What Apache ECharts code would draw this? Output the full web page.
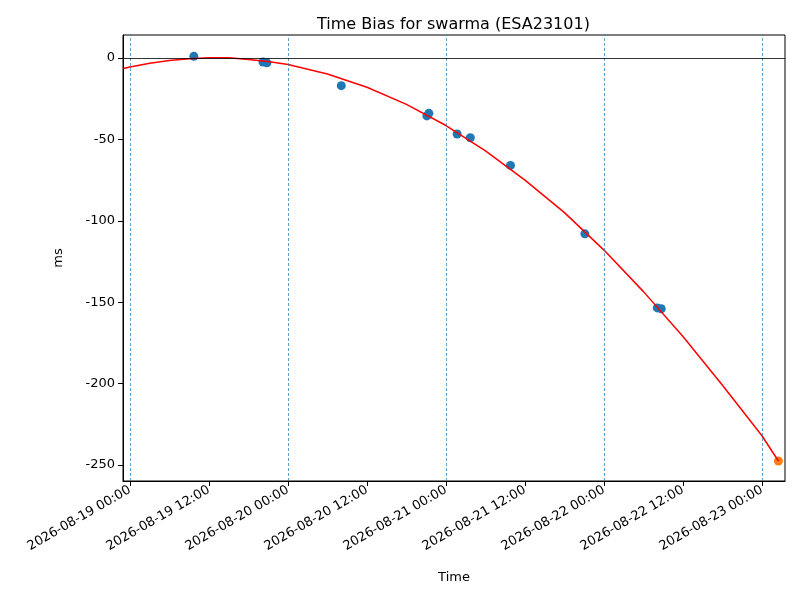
<!DOCTYPE html>
<html><head><meta charset="utf-8">
<script src="https://cdn.jsdelivr.net/npm/echarts@6/dist/echarts.min.js"></script>
<style>body{margin:0}#main{width:800px;height:600px}</style>
</head><body><div id="main"></div>
<script>
// hours since 2026-08-19 00:00
let obsHours = [9.7, 20.2, 20.8, 32.1, 45.1, 45.4, 49.7, 51.7, 57.8, 69.1, 80.1, 80.7];
let obsBias = [1, -2.5, -3, -17, -35.6, -34, -46.7, -49, -66, -108, -153.5, -154];
let predHours = [98.5];
let predBias = [-247.5];
let fitHours = [-1, 0, 3, 6, 9, 12, 15, 18, 21, 24, 30, 36, 42, 48, 54, 60, 66, 72, 78, 84, 90, 96, 98.5];
let fitBias = [-6.5, -5.5, -3.3, -1.6, -0.5, 0.2, 0.1, -0.9, -2.2, -4, -9.8, -18, -28.5, -41.5, -57, -75, -95, -118, -143.5, -171, -201, -232, -247.5];
let tickHours = [0, 12, 24, 36, 48, 60, 72, 84, 96];
let dayLines = [0, 24, 48, 72, 96];
let yTicks = [-250, -200, -150, -100, -50, 0];

function hourLabel(h) {
    let d = new Date(Date.UTC(2026, 7, 19) + h * 3600000);
    let p = n => String(n).padStart(2, "0");
    return d.getUTCFullYear() + "-" + p(d.getUTCMonth() + 1) + "-" + p(d.getUTCDate()) + " " + p(d.getUTCHours()) + ":00";
}
function pairs(xs, ys) { return xs.map((x, i) => [x, ys[i]]); }

let chart = echarts.init(document.getElementById("main"));
let font = "DejaVu Sans";
chart.setOption({
    animation: false,
    textStyle: {fontFamily: font},
    title: {text: "Time Bias for swarma (ESA23101)", left: 312, top: 12,
        textStyle: {fontFamily: font, fontSize: 16, fontWeight: "normal", color: "#000"}},
    grid: {left: 123, right: 15, top: 35, bottom: 119, show: true, borderColor: "#000", borderWidth: 1},
    xAxis: {
        type: "value", min: -1.06, max: 99.5, name: "Time", nameLocation: "middle", nameGap: 90,
        nameTextStyle: {color: "#000", fontSize: 13},
        axisLine: {onZero: false, lineStyle: {color: "#000"}},
        axisTick: {show: true, customValues: tickHours, lineStyle: {color: "#000"}},
        axisLabel: {customValues: tickHours, formatter: hourLabel, rotate: 30, color: "#000", fontSize: 13, margin: 8},
        splitLine: {show: false}
    },
    yAxis: {
        type: "value", min: -259.8, max: 14.1, name: "ms", nameLocation: "middle", nameGap: 58,
        nameTextStyle: {color: "#000", fontSize: 13},
        axisLine: {show: true, onZero: false, lineStyle: {color: "#000"}},
        axisTick: {show: true, customValues: yTicks, lineStyle: {color: "#000"}},
        axisLabel: {customValues: yTicks, color: "#000", fontSize: 13},
        splitLine: {show: false}
    },
    series: [
        {type: "line", data: pairs(fitHours, fitBias), smooth: false, showSymbol: false,
            lineStyle: {color: "red", width: 1.5},
            markLine: {symbol: "none", silent: true, label: {show: false},
                data: dayLines.map(h => ({xAxis: h, lineStyle: {color: "#1f77b4", type: [3, 2], width: 0.7}}))
                    .concat([{yAxis: 0, lineStyle: {color: "#000", type: "solid", width: 0.8}}])}},
        {type: "scatter", data: pairs(obsHours, obsBias), symbolSize: 9, itemStyle: {color: "#1f77b4", opacity: 1}},
        {type: "scatter", data: pairs(predHours, predBias), symbolSize: 9, itemStyle: {color: "#ff7f0e", opacity: 1}}
    ]
});
</script></body></html>
